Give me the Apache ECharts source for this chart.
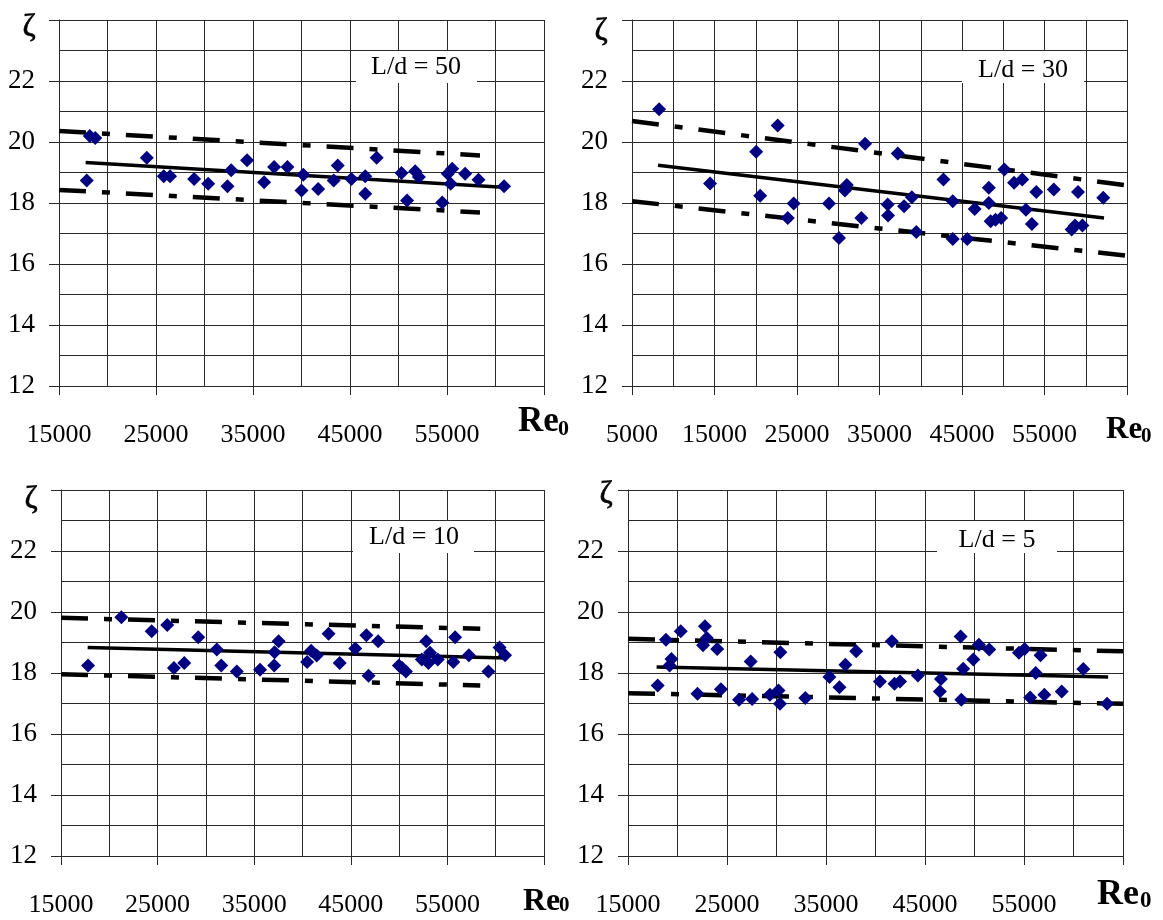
<!DOCTYPE html>
<html><head><meta charset="utf-8">
<script src="https://cdn.jsdelivr.net/npm/echarts@6/dist/echarts.min.js"></script>
<style>html,body{margin:0;padding:0;background:#fff}#c{width:1163px;height:920px}</style>
</head><body><div id="c"></div><script>
// ---------- DATA ----------
// L/d = 50
const re50   = [17860,18170,18740,24050,25800,26450,28930,30380,32370,32750,34390,36150,37180,38550,40000,40190,41720,43320,43740,45150,46570,46570,47750,50310,50880,51720,52100,54510,55080,55540,55380,56870,58250,60880];
const zeta50 = [18.74,20.20,20.13,19.48,18.88,18.88,18.79,18.63,18.55,19.07,19.40,18.68,19.18,19.18,18.41,18.93,18.46,18.74,19.23,18.79,18.88,18.30,19.48,18.98,18.08,19.04,18.85,18.02,18.96,19.12,18.63,18.96,18.76,18.55];
const trend50 = [[17750,19.33],[60770,18.52]];
const upper50 = [[15000,20.36],[58400,19.56]];
const lower50 = [[15000,18.43],[58400,17.69]];
// L/d = 30
const re30   = [8290,14460,20050,20540,22660,23880,24600,28880,30090,30810,31040,32800,33250,35990,36040,37210,37980,38920,39460,42750,43880,43880,45640,46540,48250,48250,48470,49060,49740,50140,51310,52300,52750,53470,54010,56130,58290,58700,59060,59600,62120];
const zeta30 = [21.07,18.64,19.68,18.24,20.54,17.51,17.98,17.98,16.85,18.41,18.59,17.51,19.94,17.95,17.59,19.62,17.89,18.19,17.05,18.77,18.06,16.82,16.82,17.80,18.50,18.00,17.40,17.45,17.51,19.10,18.66,18.77,17.78,17.31,18.36,18.44,17.13,17.26,18.36,17.26,18.17];
const trend30 = [[8150,19.24],[62210,17.51]];
const upper30 = [[5000,20.69],[65000,18.58]];
const lower30 = [[5000,18.06],[65000,16.27]];
// L/d = 10
const re10   = [17800,21250,24390,26000,26690,27760,29210,31130,31590,33200,35610,37070,37110,37530,40480,40900,41470,42700,43850,45460,46610,46840,47830,49980,50320,50710,52350,52810,53200,53040,54000,55610,55800,57220,59250,60400,60970];
const zeta10 = [18.25,19.83,19.37,19.57,18.16,18.33,19.17,18.77,18.25,18.05,18.11,18.25,18.68,19.04,18.36,18.73,18.57,19.29,18.33,18.80,19.24,17.91,19.04,18.25,18.16,18.05,18.44,19.04,18.66,18.33,18.44,18.36,19.17,18.58,18.05,18.84,18.58];
const trend10 = [[17760,18.84],[61050,18.49]];
const upper10 = [[15000,19.81],[58400,19.45]];
const lower10 = [[15000,17.96],[58400,17.59]];
// L/d = 5
const re5   = [18000,18830,19390,19200,20330,22020,22770,22580,22960,24010,24390,26220,27390,27540,29340,30200,30390,30350,32910,35350,36360,36960,38050,40450,41650,41920,42480,44280,46500,46610,48600,48670,48860,49880,50440,51490,54490,55060,55620,56180,56670,57050,58810,60990,63390];
const zeta5 = [17.59,19.09,18.46,18.25,19.37,17.32,19.53,18.91,19.15,18.79,17.47,17.12,18.38,17.15,17.29,17.43,18.68,16.99,17.18,17.87,17.53,18.27,18.71,17.72,19.04,17.65,17.72,17.92,17.39,17.80,19.20,17.12,18.14,18.44,18.93,18.77,18.66,18.79,17.20,18.00,18.58,17.29,17.39,18.13,16.99];
const trend5 = [[17890,18.20],[63500,17.87]];
const upper5 = [[15000,19.12],[65000,18.71]];
const lower5 = [[15000,17.34],[65000,16.99]];

const titles = ['L/d = 50','L/d = 30','L/d = 10','L/d = 5'];
const xMinA = 15000, xMinB = 5000, xMax = 65000;
const xTicksA  = [15000,25000,35000,45000,55000,65000];
const xLabelsA = [15000,25000,35000,45000,55000];
const xTicksB  = [5000,15000,25000,35000,45000,55000,65000];
const xLabelsB = [5000,15000,25000,35000,45000,55000];
const yMin = 12, yMax = 24;
const yTicks  = [12,14,16,18,20,22,24];
const yLabels = [12,14,16,18,20,22];

// ---------- LAYOUT ----------
const FONT = "'Liberation Serif','Times New Roman',serif";
const GRID_C = '#2a2a2a';
const DASH = [27,16,8,16];
const grids = [
  {left:59,  top:20,  width:485, height:366},
  {left:632, top:20,  width:495, height:366},
  {left:61,  top:490, width:483, height:366},
  {left:628, top:490, width:495, height:366}
];
const panels = [
  {re:re50, z:zeta50, t:trend50, u:upper50, l:lower50, xmin:xMinA, xt:xTicksA, xl:xLabelsA},
  {re:re30, z:zeta30, t:trend30, u:upper30, l:lower30, xmin:xMinB, xt:xTicksB, xl:xLabelsB},
  {re:re10, z:zeta10, t:trend10, u:upper10, l:lower10, xmin:xMinA, xt:xTicksA, xl:xLabelsA},
  {re:re5,  z:zeta5,  t:trend5,  u:upper5,  l:lower5,  xmin:xMinA, xt:xTicksA, xl:xLabelsA}
];
// annotation placement (pixels)
const boxes = [
  {x:356, y:51,  w:121, h:32, tx:416,  ty:67},
  {x:962, y:51,  w:122, h:32, tx:1023, ty:70},
  {x:353, y:521, w:121, h:32, tx:414,  ty:537},
  {x:937, y:521, w:120, h:32, tx:997,  ty:540}
];
const zetaPos = [[29,28],[601,32],[31,500],[606,495]];
const rePos = [
  {x:518,  y:422, s:35, sx:558,  sy:429, ss:22},
  {x:1106, y:430, s:31, sx:1141, sy:437, ss:21},
  {x:523,  y:902, s:32, sx:559,  sy:906, ss:21},
  {x:1097, y:895, s:36, sx:1140, sy:901, ss:23}
];

const xAxis = [], yAxis = [], series = [], graphic = [];
const N = panels.length;
const hidden = {show:false};
panels.forEach((p, i) => {
  // main axes (ticks, labels, axis lines)
  xAxis[i] = {
    type:'value', gridIndex:i, position:'bottom', min:p.xmin, max:xMax, interval:5000,
    axisLine:{show:true, onZero:false, lineStyle:{color:GRID_C, width:1}},
    axisTick:{show:true, length:9, customValues:p.xt, lineStyle:{color:GRID_C, width:1}},
    axisLabel:{show:true, customValues:p.xl, formatter:v=>String(v), margin:36,
      fontFamily:FONT, fontSize:26, color:'#000'},
    splitLine:hidden
  };
  yAxis[i] = {
    type:'value', gridIndex:i, position:'left', min:yMin, max:yMax, interval:1,
    axisLine:{show:true, onZero:false, lineStyle:{color:GRID_C, width:1}},
    axisTick:{show:true, length:10, customValues:yTicks, lineStyle:{color:GRID_C, width:1}},
    axisLabel:{show:true, customValues:yLabels, formatter:v=>String(v), margin:24,
      fontFamily:FONT, fontSize:27, color:'#000'},
    splitLine:hidden
  };
  // gridline-only axes (every 5000 / every 1)
  xAxis[N + i] = {
    type:'value', gridIndex:i, position:'top', min:p.xmin, max:xMax, interval:5000,
    axisLine:hidden, axisTick:hidden, axisLabel:hidden,
    splitLine:{show:true, lineStyle:{color:GRID_C, width:1}}
  };
  yAxis[N + i] = {
    type:'value', gridIndex:i, position:'right', min:yMin, max:yMax, interval:1,
    axisLine:hidden, axisTick:hidden, axisLabel:hidden,
    splitLine:{show:true, lineStyle:{color:GRID_C, width:1}}
  };
  [p.u, p.l].forEach(d => series.push({
    type:'line', xAxisIndex:i, yAxisIndex:i, data:d, symbol:'none', silent:true,
    lineStyle:{color:'#000', width:4.5, type:DASH, cap:'butt'}, z:3
  }));
  series.push({
    type:'line', xAxisIndex:i, yAxisIndex:i, data:p.t, symbol:'none', silent:true,
    lineStyle:{color:'#000', width:3.5}, z:3
  });
  series.push({
    type:'scatter', xAxisIndex:i, yAxisIndex:i,
    data:p.re.map((x,k)=>[x, p.z[k]]),
    symbol:'diamond', symbolSize:14, itemStyle:{color:'#000080', opacity:1}, z:4
  });
  const b = boxes[i];
  graphic.push({type:'rect', z:2, shape:{x:b.x, y:b.y, width:b.w, height:b.h}, style:{fill:'#fff'}});
  graphic.push({type:'text', z:2, x:b.tx, y:b.ty,
    style:{text:titles[i], font:"26px " + FONT, fill:'#000', align:'center', verticalAlign:'middle'}});
  const zp = zetaPos[i];
  graphic.push({type:'text', z:2, x:zp[0], y:zp[1],
    style:{text:'ζ', font:"32px " + FONT, fill:'#000', align:'center', verticalAlign:'middle',
      stroke:'#000', lineWidth:0.6}});
  const r = rePos[i];
  graphic.push({type:'text', z:2, x:r.x, y:r.y,
    style:{text:'Re', font:"bold " + r.s + "px " + FONT, fill:'#000', align:'left', verticalAlign:'middle'}});
  graphic.push({type:'text', z:2, x:r.sx, y:r.sy,
    style:{text:'0', font:"bold " + r.ss + "px " + FONT, fill:'#000', align:'left', verticalAlign:'middle'}});
});

const chart = echarts.init(document.getElementById('c'), null, {renderer:'canvas'});
chart.setOption({
  backgroundColor:'#fff', animation:false,
  grid:grids, xAxis, yAxis, series, graphic
});
</script></body></html>
